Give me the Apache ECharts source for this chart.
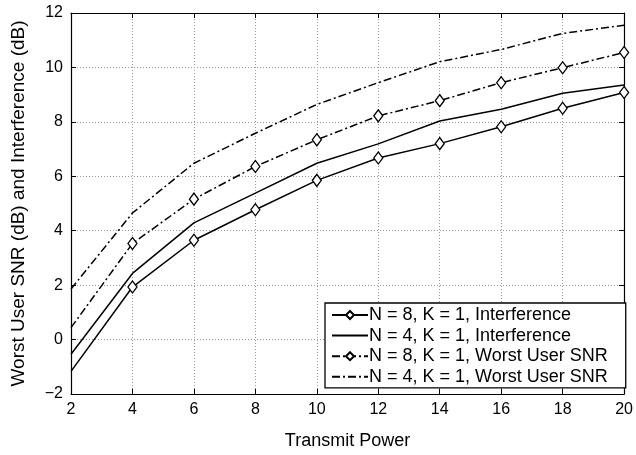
<!DOCTYPE html>
<html>
<head>
<meta charset="utf-8">
<script src="https://cdn.jsdelivr.net/npm/echarts@6/dist/echarts.min.js"></script>
<style>html,body{margin:0;padding:0;background:#fff}#c{width:636px;height:455px}</style>
</head>
<body>
<div id="c"></div>
<script>
const xValues = [2, 4, 6, 8, 10, 12, 14, 16, 18, 20];
const n8Interference = [-1.17, 1.93, 3.65, 4.77, 5.85, 6.67, 7.2, 7.82, 8.5, 9.08];
const n4Interference = [-0.54, 2.43, 4.29, 5.38, 6.48, 7.19, 8.03, 8.46, 9.05, 9.35];
const n8WorstSNR = [0.44, 3.53, 5.16, 6.36, 7.34, 8.22, 8.78, 9.44, 9.99, 10.55];
const n4WorstSNR = [1.86, 4.65, 6.48, 7.58, 8.64, 9.44, 10.21, 10.66, 11.25, 11.55];
const seriesNames = ['N = 8, K = 1, Interference', 'N = 4, K = 1, Interference', 'N = 8, K = 1, Worst User SNR', 'N = 4, K = 1, Worst User SNR'];
const xTitle = 'Transmit Power';
const yTitle = 'Worst User SNR (dB) and Interference (dB)';

const font = 'Liberation Sans, Arial, Helvetica, sans-serif';
const dashDot = [8, 3, 2, 3];
function pairs(ys, diamond) {
  return xValues.map((x, i) => (diamond && i === 0) ? {value: [x, ys[i]], symbol: 'none'} : [x, ys[i]]);
}
const chart = echarts.init(document.getElementById('c'), null, {renderer: 'canvas'});
const axisCommon = {
  axisLine: {show: true, onZero: false, lineStyle: {color: '#000', width: 1.2}},
  axisTick: {show: true, inside: true, length: 5, lineStyle: {color: '#000'}},
};
const fmt = v => String(v).replace('-', '\u2212');
function mkSeries(name, ys, diamond, type) {
  return {
    name: name, type: 'line', data: pairs(ys, diamond),
    showSymbol: diamond, symbol: 'diamond', symbolSize: [9, 12],
    itemStyle: {color: '#fff', borderColor: '#000', borderWidth: 1.3},
    lineStyle: {color: '#000', width: 1.5, type: type},
    animation: false, z: 3
  };
}
const hiddenMark = {color: 'rgba(0,0,0,0)', borderColor: 'rgba(0,0,0,0)'};
chart.setOption({
  animation: false,
  backgroundColor: '#fff',
  grid: {left: 71, right: 10, top: 13, bottom: 60},
  xAxis: [{
    type: 'value', min: 2, max: 20, interval: 2, position: 'bottom',
    ...axisCommon,
    axisLabel: {color: '#000', fontSize: 16, fontFamily: font, margin: 8, formatter: fmt},
    splitLine: {show: true, lineStyle: {color: '#999', type: [1, 2], width: 1}},
    name: xTitle, nameLocation: 'middle', nameGap: 38,
    nameTextStyle: {color: '#000', fontSize: 18, fontFamily: font}
  }, {
    type: 'value', min: 2, max: 20, interval: 2, position: 'top',
    ...axisCommon, axisLabel: {show: false}, splitLine: {show: false}
  }],
  yAxis: [{
    type: 'value', min: -2, max: 12, interval: 2, position: 'left',
    ...axisCommon,
    axisLabel: {color: '#000', fontSize: 16, fontFamily: font, margin: 8, formatter: fmt},
    splitLine: {show: true, lineStyle: {color: '#999', type: [1, 2], width: 1}},
    name: yTitle, nameLocation: 'middle', nameGap: 43,
    nameTextStyle: {color: '#000', fontSize: 19, fontFamily: font}
  }, {
    type: 'value', min: -2, max: 12, interval: 2, position: 'right',
    ...axisCommon, axisLabel: {show: false}, splitLine: {show: false}
  }],
  legend: {
    orient: 'vertical', left: 325, top: 303,
    backgroundColor: '#fff', borderColor: '#000', borderWidth: 1.3, borderRadius: 0,
    padding: [3, 18, 2, 6], itemGap: 2.6, itemWidth: 36, itemHeight: 10,
    textStyle: {color: '#000', fontSize: 18, lineHeight: 18, fontFamily: font, padding: [0, 0, 0, -4]},
    data: [
      {name: seriesNames[0]},
      {name: seriesNames[1], itemStyle: hiddenMark},
      {name: seriesNames[2]},
      {name: seriesNames[3], itemStyle: hiddenMark}
    ]
  },
  series: [
    mkSeries(seriesNames[0], n8Interference, true, 'solid'),
    mkSeries(seriesNames[1], n4Interference, false, 'solid'),
    mkSeries(seriesNames[2], n8WorstSNR, true, dashDot),
    mkSeries(seriesNames[3], n4WorstSNR, false, dashDot)
  ]
});
</script>
</body>
</html>
